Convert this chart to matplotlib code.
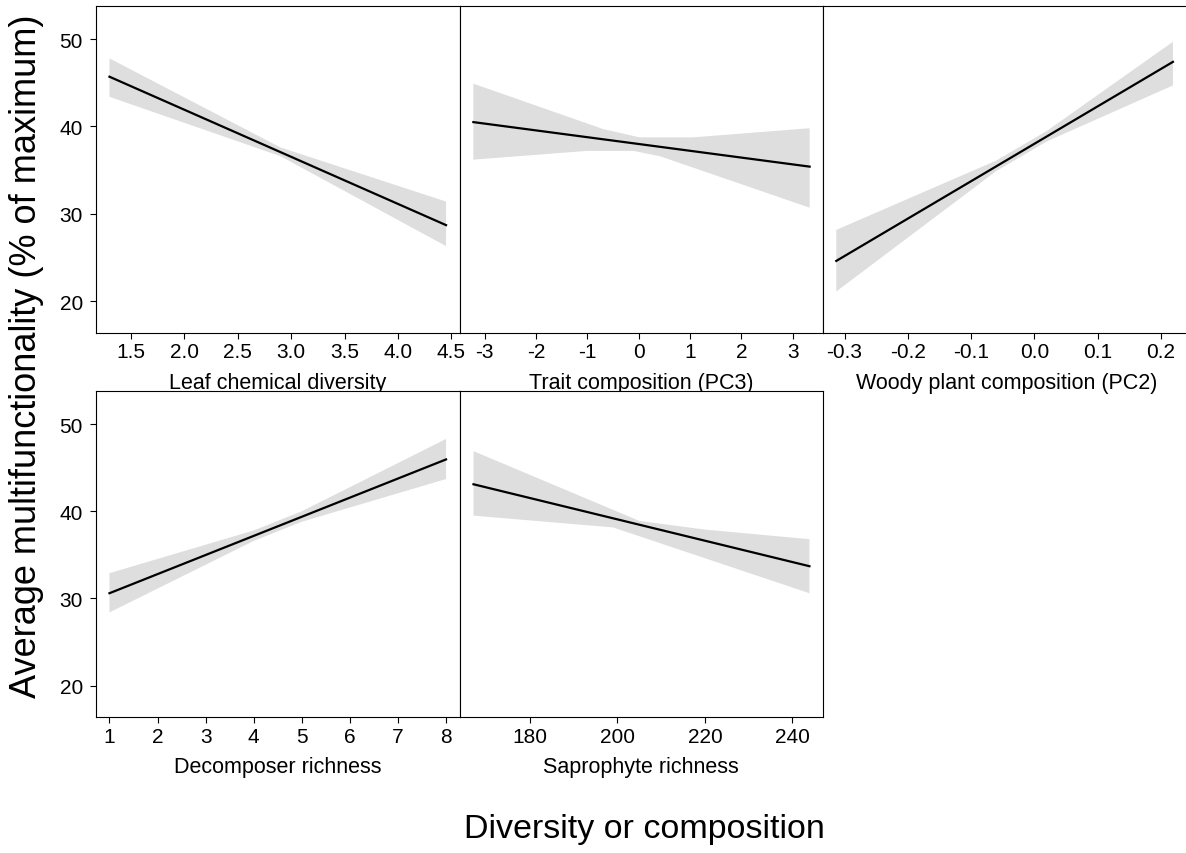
import matplotlib
matplotlib.use("Agg")
import matplotlib.pyplot as plt
import numpy as np

plt.rcParams['font.family'] = ['Liberation Sans', 'DejaVu Sans']
plt.rcParams['axes.unicode_minus'] = False

# ---- data ----
leaf_line_x = [1.30, 4.45]
leaf_line_y = [45.7, 28.7]
leaf_up_x = [1.30, 2.90, 4.45]
leaf_up_y = [47.8, 37.6, 31.4]
leaf_lo_x = [1.30, 2.90, 4.45]
leaf_lo_y = [43.4, 36.6, 26.3]
leaf_ticks = [1.5, 2.0, 2.5, 3.0, 3.5, 4.0, 4.5]
leaf_ticklabels = ["1.5", "2.0", "2.5", "3.0", "3.5", "4.0", "4.5"]

trait_line_x = [-3.22, 3.33]
trait_line_y = [40.5, 35.4]
trait_up_x = [-3.22, -0.69, 0.02, 1.05, 3.33]
trait_up_y = [44.9, 39.7, 38.75, 38.75, 39.8]
trait_lo_x = [-3.22, -1.01, -0.10, 0.41, 3.33]
trait_lo_y = [36.2, 37.2, 37.2, 36.6, 30.7]
trait_ticks = [-3, -2, -1, 0, 1, 2, 3]
trait_ticklabels = ["-3", "-2", "-1", "0", "1", "2", "3"]

woody_line_x = [-0.313, 0.219]
woody_line_y = [24.6, 47.4]
woody_up_x = [-0.313, -0.06, 0.02, 0.219]
woody_up_y = [28.15, 36.1, 39.5, 49.7]
woody_lo_x = [-0.313, -0.06, 0.02, 0.219]
woody_lo_y = [21.1, 34.9, 38.3, 44.7]
woody_ticks = [-0.3, -0.2, -0.1, 0.0, 0.1, 0.2]
woody_ticklabels = ["-0.3", "-0.2", "-0.1", "0.0", "0.1", "0.2"]

decomp_line_x = [1, 8]
decomp_line_y = [30.6, 45.95]
decomp_up_x = [1, 4.0, 5.0, 8]
decomp_up_y = [32.9, 37.8, 40.0, 48.3]
decomp_lo_x = [1, 4.0, 5.0, 8]
decomp_lo_y = [28.4, 36.6, 38.8, 43.7]
decomp_ticks = [1, 2, 3, 4, 5, 6, 7, 8]
decomp_ticklabels = ["1", "2", "3", "4", "5", "6", "7", "8"]

sapro_line_x = [167.1, 243.9]
sapro_line_y = [43.1, 33.7]
sapro_up_x = [167.1, 205, 220, 243.9]
sapro_up_y = [46.9, 38.9, 37.9, 36.8]
sapro_lo_x = [167.1, 199, 243.9]
sapro_lo_y = [39.5, 38.15, 30.6]
sapro_ticks = [180, 200, 220, 240]
sapro_ticklabels = ["180", "200", "220", "240"]

y_ticks = [20, 30, 40, 50]
y_ticklabels = ["20", "30", "40", "50"]

panel_titles = ["Leaf chemical diversity", "Trait composition (PC3)",
                "Woody plant composition (PC2)", "Decomposer richness",
                "Saprophyte richness"]
ylabel_text = "Average multifunctionality (% of maximum)"
xlabel_text = "Diversity or composition"

# ---- layout ----
W, H = 1186, 854
fig = plt.figure(figsize=(W / 100, H / 100), dpi=100)

def px_axes(x0, x1, ytop, ybot):
    return fig.add_axes([x0 / W, 1 - ybot / H, (x1 - x0) / W, (ybot - ytop) / H])

col_edges = [(96, 459.5), (459.5, 823), (823, 1190)]
row_edges = [(7, 333.5), (392, 718)]

panels = [
    dict(pos=(0, 0), lx=leaf_line_x, ly=leaf_line_y, ux=leaf_up_x, uy=leaf_up_y,
         bx=leaf_lo_x, by=leaf_lo_y, ticks=leaf_ticks, tl=leaf_ticklabels,
         xlim=(1.174, 4.576), title=panel_titles[0], left=True),
    dict(pos=(0, 1), lx=trait_line_x, ly=trait_line_y, ux=trait_up_x, uy=trait_up_y,
         bx=trait_lo_x, by=trait_lo_y, ticks=trait_ticks, tl=trait_ticklabels,
         xlim=(-3.49, 3.59), title=panel_titles[1], left=False),
    dict(pos=(0, 2), lx=woody_line_x, ly=woody_line_y, ux=woody_up_x, uy=woody_up_y,
         bx=woody_lo_x, by=woody_lo_y, ticks=woody_ticks, tl=woody_ticklabels,
         xlim=(-0.334, 0.246), title=panel_titles[2], left=False),
    dict(pos=(1, 0), lx=decomp_line_x, ly=decomp_line_y, ux=decomp_up_x, uy=decomp_up_y,
         bx=decomp_lo_x, by=decomp_lo_y, ticks=decomp_ticks, tl=decomp_ticklabels,
         xlim=(0.72, 8.28), title=panel_titles[3], left=True),
    dict(pos=(1, 1), lx=sapro_line_x, ly=sapro_line_y, ux=sapro_up_x, uy=sapro_up_y,
         bx=sapro_lo_x, by=sapro_lo_y, ticks=sapro_ticks, tl=sapro_ticklabels,
         xlim=(163.9, 247.0), title=panel_titles[4], left=False),
]

for p in panels:
    r, c = p['pos']
    x0, x1 = col_edges[c]
    yt, yb = row_edges[r]
    ax = px_axes(x0, x1, yt, yb)
    poly_x = np.r_[p['ux'], p['bx'][::-1]]
    poly_y = np.r_[p['uy'], p['by'][::-1]]
    ax.fill(poly_x, poly_y, color='#DEDEDE', lw=0, zorder=1)
    ax.plot(p['lx'], p['ly'], color='black', lw=1.6, zorder=2)
    ax.set_xlim(*p['xlim'])
    ax.set_ylim(16.4, 53.8)
    ax.set_xticks(p['ticks'])
    ax.set_xticklabels(p['tl'])
    if p['left']:
        ax.set_yticks(y_ticks)
        ax.set_yticklabels(y_ticklabels)
    else:
        ax.set_yticks([])
    for s in ax.spines.values():
        s.set_linewidth(0.8)
        s.set_color('black')
    ax.tick_params(axis='both', direction='out', length=4.5, width=0.8,
                   labelsize=15, colors='black')
    ax.tick_params(axis='x', pad=2.5)
    ax.tick_params(axis='y', pad=5)
    ax.set_xlabel(p['title'], fontsize=15.5, labelpad=7.5)

fig.text(27 / W, 1 - 356 / H, ylabel_text, rotation=90, ha='center', va='center',
         fontsize=26)
fig.text(644 / W, 1 - 830 / H, xlabel_text, ha='center', va='center', fontsize=24.5)

fig.savefig('out.png', dpi=100)
